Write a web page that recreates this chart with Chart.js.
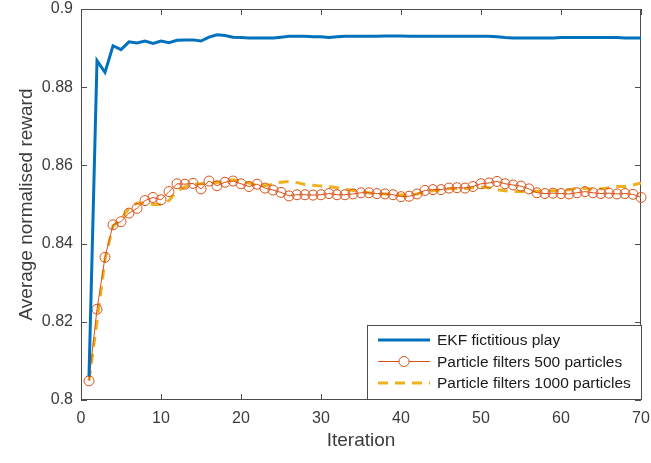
<!DOCTYPE html>
<html>
<head>
<meta charset="utf-8">
<script src="https://cdn.jsdelivr.net/npm/chart.js@4.4.1/dist/chart.umd.min.js"></script>
<style>
  html, body { margin: 0; padding: 0; background: #fff; }
  #wrap { width: 651px; height: 463px; }
</style>
</head>
<body>
<div id="wrap"><canvas id="myChart" width="651" height="463"></canvas></div>
<script>
// iteration numbers (x axis)
const iterations = [1,2,3,4,5,6,7,8,9,10,11,12,13,14,15,16,17,18,19,20,
  21,22,23,24,25,26,27,28,29,30,31,32,33,34,35,36,37,38,39,40,
  41,42,43,44,45,46,47,48,49,50,51,52,53,54,55,56,57,58,59,60,
  61,62,63,64,65,66,67,68,69,70];

// EKF fictitious play
const ekfReward = [0.8060,0.8868,0.8838,0.8906,0.8896,0.8916,0.8913,0.8918,0.8912,0.8918,
  0.8914,0.8920,0.8921,0.8921,0.8918,0.8928,0.8934,0.8932,0.8928,0.8927,
  0.8926,0.8926,0.8926,0.8926,0.8928,0.8930,0.8930,0.8930,0.8929,0.8929,
  0.8927,0.8929,0.8930,0.8930,0.8930,0.8930,0.8930,0.8931,0.8931,0.8931,
  0.8930,0.8930,0.8930,0.8930,0.8930,0.8930,0.8930,0.8930,0.8930,0.8930,
  0.8930,0.8929,0.8927,0.8926,0.8926,0.8926,0.8926,0.8926,0.8926,0.8927,
  0.8927,0.8927,0.8927,0.8927,0.8927,0.8927,0.8927,0.8926,0.8926,0.8926];

// particle filters, 500 particles
const pf500Reward = [0.8049,0.8232,0.8365,0.8448,0.8456,0.8478,0.8490,0.8510,0.8518,0.8512,
  0.8533,0.8553,0.8552,0.8554,0.8540,0.8560,0.8548,0.8557,0.8560,0.8553,
  0.8546,0.8552,0.8542,0.8537,0.8531,0.8522,0.8525,0.8525,0.8524,0.8525,
  0.8528,0.8525,0.8525,0.8527,0.8530,0.8530,0.8528,0.8527,0.8525,0.8520,
  0.8521,0.8527,0.8536,0.8538,0.8538,0.8542,0.8543,0.8542,0.8546,0.8553,
  0.8555,0.8559,0.8553,0.8550,0.8547,0.8540,0.8530,0.8528,0.8529,0.8528,
  0.8527,0.8530,0.8533,0.8530,0.8528,0.8529,0.8527,0.8528,0.8526,0.8518];

// particle filters, 1000 particles
const pf1000Reward = [0.8050,0.8200,0.8360,0.8445,0.8462,0.8490,0.8503,0.8505,0.8500,0.8500,
  0.8510,0.8535,0.8545,0.8552,0.8553,0.8555,0.8556,0.8560,0.8563,0.8560,
  0.8555,0.8550,0.8548,0.8552,0.8557,0.8559,0.8556,0.8551,0.8549,0.8547,
  0.8546,0.8543,0.8539,0.8536,0.8533,0.8530,0.8528,0.8527,0.8526,0.8524,
  0.8525,0.8527,0.8532,0.8535,0.8537,0.8540,0.8540,0.8541,0.8543,0.8545,
  0.8543,0.8538,0.8535,0.8533,0.8533,0.8533,0.8534,0.8535,0.8535,0.8536,
  0.8538,0.8542,0.8541,0.8539,0.8540,0.8543,0.8546,0.8546,0.8550,0.8555];

const seriesNames = ['EKF fictitious play', 'Particle filters 500 particles', 'Particle filters 1000 particles'];
const xTicks = [0, 10, 20, 30, 40, 50, 60, 70];
const yTicks = [0.8, 0.82, 0.84, 0.86, 0.88, 0.9];

const textColor = '#3c3c3c';
const axisColor = '#4d4d4d';
Chart.defaults.font.family = '"Liberation Sans", Arial, Helvetica, sans-serif';
Chart.defaults.color = textColor;

function toPoints(values) {
  return values.map(function(v, i) { return { x: iterations[i], y: v }; });
}

// box round the plot with inward ticks on all four sides
const axesBox = {
  id: 'axesBox',
  beforeDatasetsDraw(chart) {
    const ctx = chart.ctx;
    const a = chart.chartArea;
    const xs = chart.scales.x, ys = chart.scales.y;
    const tl = 6;
    ctx.save();
    ctx.strokeStyle = axisColor;
    ctx.lineWidth = 1;
    ctx.strokeRect(a.left + 0.5, a.top + 0.5, a.right - a.left - 1, a.bottom - a.top - 1);
    ctx.beginPath();
    xTicks.forEach(function(t) {
      const px = Math.round(xs.getPixelForValue(t)) + 0.5;
      ctx.moveTo(px, a.bottom); ctx.lineTo(px, a.bottom - tl);
      ctx.moveTo(px, a.top); ctx.lineTo(px, a.top + tl);
    });
    yTicks.forEach(function(t) {
      const py = Math.round(ys.getPixelForValue(t)) + 0.5;
      ctx.moveTo(a.left, py); ctx.lineTo(a.left + tl, py);
      ctx.moveTo(a.right, py); ctx.lineTo(a.right - tl, py);
    });
    ctx.stroke();
    ctx.restore();
  }
};

// legend box in the lower right corner of the plot
const boxLegend = {
  id: 'boxLegend',
  afterDraw(chart) {
    const ctx = chart.ctx;
    const a = chart.chartArea;
    const w = 274, h = 74;
    const x0 = a.right - w, y0 = a.bottom - h - 1;
    ctx.save();
    ctx.fillStyle = '#ffffff';
    ctx.fillRect(x0, y0, w, h);
    ctx.strokeStyle = axisColor;
    ctx.lineWidth = 1;
    ctx.strokeRect(x0 + 0.5, y0 + 0.5, w, h);
    ctx.font = '15.5px "Liberation Sans", Arial, sans-serif';
    ctx.textBaseline = 'middle';
    ctx.fillStyle = '#1a1a1a';
    chart.data.datasets.forEach(function(ds, i) {
      const cy = y0 + 15 + i * 21.5;
      const lx0 = x0 + 11, lx1 = x0 + 63;
      ctx.save();
      ctx.strokeStyle = ds.borderColor;
      ctx.lineWidth = ds.borderWidth;
      ctx.setLineDash(ds.borderDash || []);
      ctx.beginPath();
      ctx.moveTo(lx0, cy); ctx.lineTo(lx1, cy);
      ctx.stroke();
      ctx.setLineDash([]);
      if (ds.pointRadius > 0) {
        ctx.fillStyle = '#ffffff';
        ctx.lineWidth = ds.pointBorderWidth;
        ctx.strokeStyle = ds.pointBorderColor;
        ctx.beginPath();
        ctx.arc((lx0 + lx1) / 2, cy, ds.pointRadius, 0, Math.PI * 2);
        ctx.fill();
        ctx.stroke();
      }
      ctx.restore();
      ctx.fillText(seriesNames[i], x0 + 70, cy + 1);
    });
    ctx.restore();
  }
};

new Chart('myChart', {
  type: 'line',
  data: {
    datasets: [{
      label: seriesNames[0],
      data: toPoints(ekfReward),
      borderColor: '#0072bd',
      borderWidth: 3,
      pointRadius: 0,
      tension: 0,
      clip: false
    }, {
      label: seriesNames[1],
      data: toPoints(pf500Reward),
      borderColor: '#d95319',
      borderWidth: 1,
      pointRadius: 5,
      pointBorderWidth: 1,
      pointBorderColor: '#d95319',
      pointBackgroundColor: 'rgba(255,255,255,0)',
      tension: 0,
      clip: false
    }, {
      label: seriesNames[2],
      data: toPoints(pf1000Reward),
      borderColor: '#edb120',
      borderWidth: 3,
      borderDash: [10, 7],
      pointRadius: 0,
      tension: 0,
      clip: false
    }]
  },
  options: {
    responsive: false,
    animation: false,
    devicePixelRatio: 1,
    layout: { padding: { left: 0, top: 9, right: 10, bottom: 0 } },
    plugins: {
      legend: { display: false },
      tooltip: { enabled: false }
    },
    scales: {
      x: {
        type: 'linear',
        min: 0,
        max: 70,
        grid: { display: false, drawTicks: false },
        border: { display: false },
        afterBuildTicks: function(scale) { scale.ticks = xTicks.map(function(v) { return { value: v }; }); },
        afterFit: function(scale) {
          scale.height = 63;
          scale.paddingLeft = 0; scale.paddingRight = 0;
        },
        ticks: { font: { size: 16 }, color: textColor, padding: 9, maxRotation: 0 },
        title: {
          display: true,
          text: 'Iteration',
          color: textColor,
          font: { size: 19 },
          padding: { top: 0, bottom: 11 }
        }
      },
      y: {
        min: 0.8,
        max: 0.9,
        grid: { display: false, drawTicks: false },
        border: { display: false },
        afterBuildTicks: function(scale) { scale.ticks = yTicks.map(function(v) { return { value: v }; }); },
        afterFit: function(scale) {
          scale.width = 81;
          scale.paddingTop = 0; scale.paddingBottom = 0;
        },
        ticks: {
          font: { size: 16 },
          color: textColor,
          padding: 8,
          callback: function(v) { return String(Math.round(v * 100) / 100); }
        },
        title: {
          display: true,
          text: 'Average normalised reward',
          color: textColor,
          font: { size: 19 },
          padding: { top: 15, bottom: 0 }
        }
      }
    }
  },
  plugins: [axesBox, boxLegend]
});
</script>
</body>
</html>
